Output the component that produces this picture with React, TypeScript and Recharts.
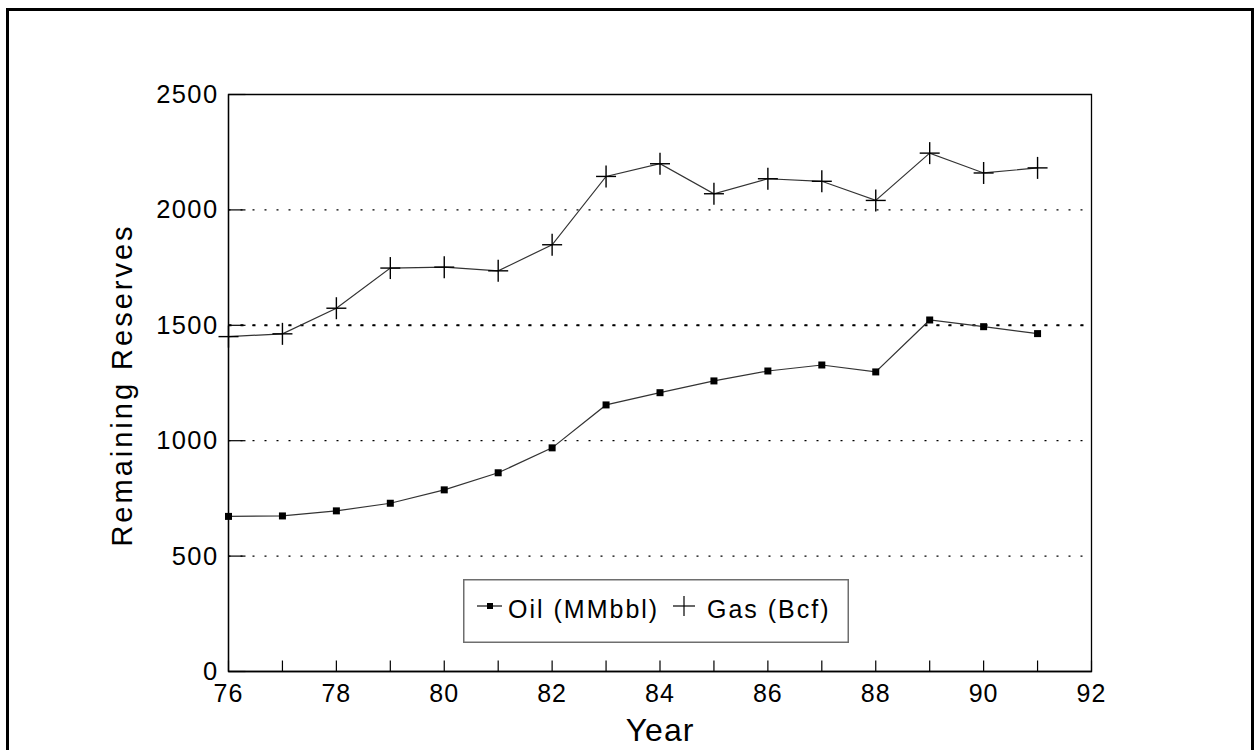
import * as React from "react";
import {
  LineChart,
  Line,
  XAxis,
  YAxis,
  CartesianGrid,
  Legend,
  ReferenceArea,
  ReferenceLine,
} from "recharts";

const years = [76, 77, 78, 79, 80, 81, 82, 83, 84, 85, 86, 87, 88, 89, 90, 91];
const oilValues = [672, 674, 696, 729, 787, 861, 969, 1155, 1208, 1259, 1302, 1328, 1298, 1523, 1494, 1464];
const gasValues = [1451, 1463, 1574, 1748, 1752, 1736, 1849, 2145, 2200, 2070, 2135, 2124, 2041, 2246, 2160, 2182];
const xTicks = [76, 77, 78, 79, 80, 81, 82, 83, 84, 85, 86, 87, 88, 89, 90, 91, 92];
const yTicks = [0, 500, 1000, 1500, 2000, 2500];

const FONT = '"Liberation Sans", Arial, Helvetica, sans-serif';
const INK = "#000";

const data = years.map((year, i) => ({ year, oil: oilValues[i], gas: gasValues[i] }));

function XTick(props: any) {
  const { x, y, payload } = props;
  const v = payload.value as number;
  return (
    <g>
      <line x1={x} x2={x} y1={y} y2={y - 11} stroke={INK} strokeWidth={1.2} />
      {v % 2 === 0 && (
        <text
          x={x}
          y={y + 30.5}
          textAnchor="middle"
          fontFamily={FONT}
          fontSize={25}
          letterSpacing={1}
          fill={INK}
        >
          {v}
        </text>
      )}
    </g>
  );
}

function YTick(props: any) {
  const { x, y, payload } = props;
  return (
    <g>
      <line x1={x} x2={x + 17} y1={y} y2={y} stroke={INK} strokeWidth={1.2} />
      <text
        x={x - 10}
        y={y + 8.5}
        textAnchor="end"
        fontFamily={FONT}
        fontSize={25.5}
        letterSpacing={1.4}
        fill={INK}
      >
        {payload.value}
      </text>
    </g>
  );
}

function OilDot(props: any) {
  const { cx, cy, index } = props;
  if (cx == null || cy == null) return <g key={`o-${index}`} />;
  return <rect key={`o-${index}`} x={cx - 3.5} y={cy - 3.5} width={7} height={7} fill={INK} />;
}

function GasDot(props: any) {
  const { cx, cy, index } = props;
  if (cx == null || cy == null) return <g key={`g-${index}`} />;
  return (
    <g key={`g-${index}`}>
      <line x1={cx - 10} x2={cx + 10} y1={cy} y2={cy} stroke={INK} strokeWidth={1.4} />
      <line x1={cx} x2={cx} y1={cy - 11} y2={cy + 11} stroke={INK} strokeWidth={1.4} />
    </g>
  );
}

function LegendBox() {
  return (
    <svg width={386} height={64} style={{ display: "block" }}>
      <rect x={0.75} y={0.75} width={384.5} height={62.5} fill="#fff" stroke="#6e6e6e" strokeWidth={1.5} />
      <line x1={14} x2={39} y1={27} y2={27} stroke="#222" strokeWidth={1.3} />
      <rect x={24} y={24} width={6} height={6} fill={INK} />
      <text x={45} y={39} fontFamily={FONT} fontSize={25} letterSpacing={2} fill={INK}>
        Oil (MMbbl)
      </text>
      <line x1={210} x2={232} y1={27} y2={27} stroke={INK} strokeWidth={1.2} />
      <line x1={221} x2={221} y1={17} y2={37} stroke={INK} strokeWidth={1.2} />
      <text x={244} y={39} fontFamily={FONT} fontSize={25} letterSpacing={2} fill={INK}>
        Gas (Bcf)
      </text>
    </svg>
  );
}

export default function App() {
  return (
    <div
      style={{
        position: "absolute",
        left: 0,
        top: 0,
        width: 1254,
        height: 750,
        overflow: "hidden",
        background: "#fff",
      }}
    >
      <div
        style={{
          position: "absolute",
          left: 6,
          top: 8,
          width: 1248,
          height: 800,
          border: "3px solid #000",
          boxSizing: "border-box",
        }}
      />
      <div style={{ position: "absolute", left: 0, top: 0 }}>
        <LineChart
          width={1254}
          height={750}
          data={data}
          margin={{ top: 94.5, right: 162.5, left: 78.5, bottom: 18.5 }}
        >
          <CartesianGrid
            vertical={false}
            strokeDasharray="2 10"
            stroke={INK}
            strokeWidth={1.2}
          />
          <ReferenceLine y={1500} stroke={INK} strokeWidth={2} strokeDasharray="3 9" />
          <ReferenceArea
            x1={76}
            x2={92}
            y1={0}
            y2={2500}
            fill="none"
            stroke={INK}
            strokeWidth={1.3}
            ifOverflow="visible"
          />
          <XAxis
            dataKey="year"
            type="number"
            domain={[76, 92]}
            ticks={xTicks}
            interval={0}
            height={60}
            tickSize={0}
            tickMargin={0}
            tickLine={false}
            axisLine={{ stroke: INK, strokeWidth: 1.3 }}
            tick={<XTick />}
            label={{
              content: (p: any) => {
                const vb = p.viewBox;
                return (
                  <text
                    x={vb.x + vb.width / 2}
                    y={vb.y + 69.5}
                    textAnchor="middle"
                    fontFamily={FONT}
                    fontSize={32}
                    letterSpacing={1}
                    fill={INK}
                  >
                    Year
                  </text>
                );
              },
            }}
          />
          <YAxis
            type="number"
            domain={[0, 2500]}
            ticks={yTicks}
            interval={0}
            width={150}
            tickSize={0}
            tickMargin={0}
            tickLine={false}
            axisLine={{ stroke: INK, strokeWidth: 1.3 }}
            tick={<YTick />}
            label={{
              content: (p: any) => {
                const vb = p.viewBox;
                const cx = 131.5;
                const cy = vb.y + vb.height / 2 + 2;
                return (
                  <text
                    x={cx}
                    y={cy}
                    transform={`rotate(-90 ${cx} ${cy})`}
                    textAnchor="middle"
                    fontFamily={FONT}
                    fontSize={29}
                    letterSpacing={3}
                    fill={INK}
                  >
                    Remaining Reserves
                  </text>
                );
              },
            }}
          />
          <Legend
            layout="vertical"
            align="center"
            verticalAlign="middle"
            content={() => <LegendBox />}
            wrapperStyle={{ position: "absolute", left: 463, top: 579, width: 386, height: 64 }}
          />
          <Line
            dataKey="oil"
            name="Oil (MMbbl)"
            stroke="#333"
            strokeWidth={1.2}
            dot={OilDot}
            activeDot={false}
            isAnimationActive={false}
          />
          <Line
            dataKey="gas"
            name="Gas (Bcf)"
            stroke="#333"
            strokeWidth={1.2}
            dot={GasDot}
            activeDot={false}
            isAnimationActive={false}
          />
        </LineChart>
      </div>
    </div>
  );
}
